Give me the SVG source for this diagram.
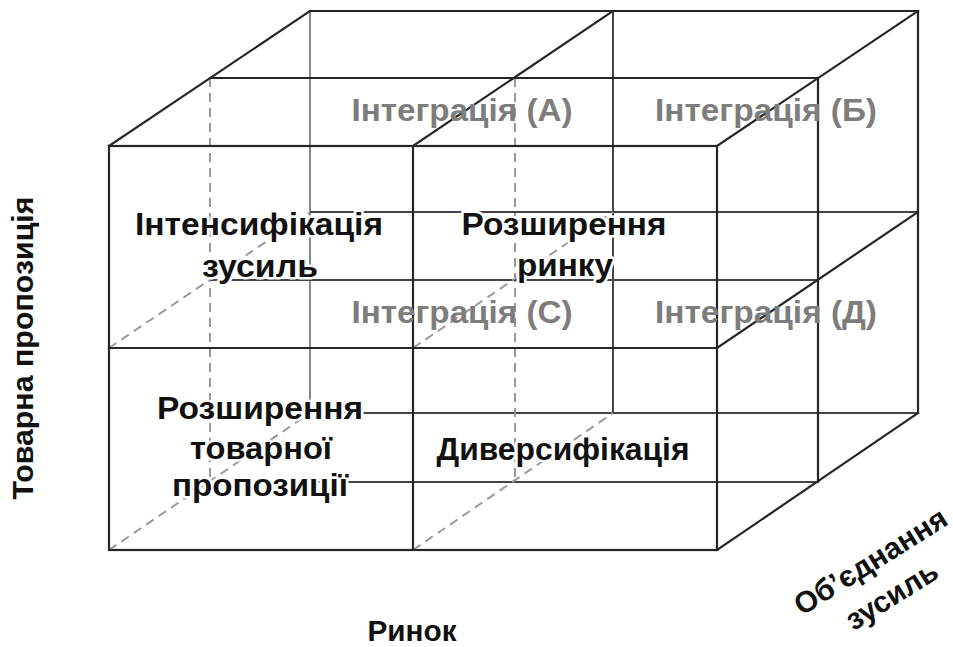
<svg xmlns="http://www.w3.org/2000/svg" width="953" height="647" viewBox="0 0 953 647">
  <style>
    .edge { stroke: #262626; stroke-width: 2.2; fill: none; stroke-linecap: square; }
    .inner { stroke: #444; stroke-width: 2; fill: none; }
    .back { stroke: #888; stroke-width: 2; fill: none; }
    .hidden { stroke: #9a9a9a; stroke-width: 2; fill: none; stroke-dasharray: 9 6; }
    .lbl { font-family: "Liberation Sans", Arial, sans-serif; font-weight: bold; font-size: 31px; fill: #111; text-anchor: middle; }
    .halo { stroke: #fff; stroke-width: 5; stroke-linejoin: round; paint-order: stroke; }
    .grey { font-family: "Liberation Sans", Arial, sans-serif; font-weight: bold; font-size: 31px; fill: #7d7d7d; text-anchor: middle; }
    .axis { font-family: "Liberation Sans", Arial, sans-serif; font-weight: bold; font-size: 30px; fill: #111; text-anchor: middle; }
  </style>
  <rect width="953" height="647" fill="#fff"/>

  <g id="connectors">
    <!-- back layer -->
    <line class="back" x1="310" y1="11" x2="310" y2="413"/>
    <line class="inner" x1="613" y1="11" x2="613" y2="413"/>
    <line class="inner" x1="310" y1="212" x2="918" y2="212"/>
    <line class="inner" x1="310" y1="413" x2="918" y2="413"/>
    <line class="edge" x1="310" y1="11" x2="918" y2="11"/>
    <line class="edge" x1="918" y1="11" x2="918" y2="413"/>
    <!-- middle layer -->
    <line class="hidden" x1="210" y1="78" x2="210" y2="482"/>
    <line class="hidden" x1="515" y1="78" x2="515" y2="482"/>
    <line class="inner" x1="210" y1="280" x2="818" y2="280"/>
    <line class="inner" x1="210" y1="482" x2="818" y2="482"/>
    <line class="edge" x1="210" y1="78" x2="818" y2="78"/>
    <line class="edge" x1="818" y1="78" x2="818" y2="482"/>
    <!-- depth lines -->
    <line class="edge" x1="109" y1="146" x2="310" y2="11"/>
    <line class="edge" x1="413" y1="146" x2="613" y2="11"/>
    <line class="edge" x1="717" y1="146" x2="918" y2="11"/>
    <line class="edge" x1="717" y1="348" x2="918" y2="212"/>
    <line class="edge" x1="717" y1="550" x2="918" y2="413"/>
    <line class="hidden" x1="109" y1="348" x2="310" y2="212"/>
    <line class="hidden" x1="109" y1="550" x2="310" y2="413"/>
    <line class="hidden" x1="413" y1="348" x2="613" y2="212"/>
    <line class="hidden" x1="413" y1="550" x2="613" y2="413"/>
    <!-- front layer -->
    <rect class="edge" x="109" y="146" width="608" height="404"/>
    <line class="edge" x1="413" y1="146" x2="413" y2="550"/>
    <line class="edge" x1="109" y1="348" x2="717" y2="348"/>
  </g>

  <g id="integration-a"><text class="grey" x="462" y="121" textLength="221" lengthAdjust="spacingAndGlyphs">Інтеграція (А)</text></g>
  <g id="integration-b"><text class="grey" x="766" y="121" textLength="222" lengthAdjust="spacingAndGlyphs">Інтеграція (Б)</text></g>
  <g id="integration-c"><text class="grey" x="462" y="323" textLength="221" lengthAdjust="spacingAndGlyphs">Інтеграція (С)</text></g>
  <g id="integration-d"><text class="grey" x="766" y="323" textLength="222" lengthAdjust="spacingAndGlyphs">Інтеграція (Д)</text></g>

  <g id="intensification">
    <text class="lbl halo" x="259" y="235" textLength="248" lengthAdjust="spacingAndGlyphs">Інтенсифікація</text>
    <text class="lbl halo" x="260" y="277" textLength="116" lengthAdjust="spacingAndGlyphs">зусиль</text>
  </g>
  <g id="market-expansion">
    <text class="lbl halo" x="564" y="235" textLength="205" lengthAdjust="spacingAndGlyphs">Розширення</text>
    <text class="lbl halo" x="565" y="276" textLength="96" lengthAdjust="spacingAndGlyphs">ринку</text>
  </g>
  <g id="product-expansion">
    <text class="lbl halo" x="260" y="419" textLength="206" lengthAdjust="spacingAndGlyphs">Розширення</text>
    <text class="lbl halo" x="261" y="459" textLength="142" lengthAdjust="spacingAndGlyphs">товарної</text>
    <text class="lbl halo" x="260" y="496" textLength="176" lengthAdjust="spacingAndGlyphs">пропозиції</text>
  </g>
  <g id="diversification">
    <text class="lbl halo" x="563" y="460" textLength="253" lengthAdjust="spacingAndGlyphs">Диверсифікація</text>
  </g>

  <g id="axis-product"><text class="axis" transform="translate(33,348) rotate(-90)" textLength="303" lengthAdjust="spacingAndGlyphs">Товарна пропозиція</text></g>
  <g id="axis-market"><text class="axis" x="412" y="641" font-size="29" textLength="89" lengthAdjust="spacingAndGlyphs">Ринок</text></g>
  <g id="axis-joint">
    <text class="axis" font-size="27" transform="translate(876,570) rotate(-32)">Об’єднання</text>
    <text class="axis" font-size="27" transform="translate(897,604) rotate(-32)">зусиль</text>
  </g>
</svg>
